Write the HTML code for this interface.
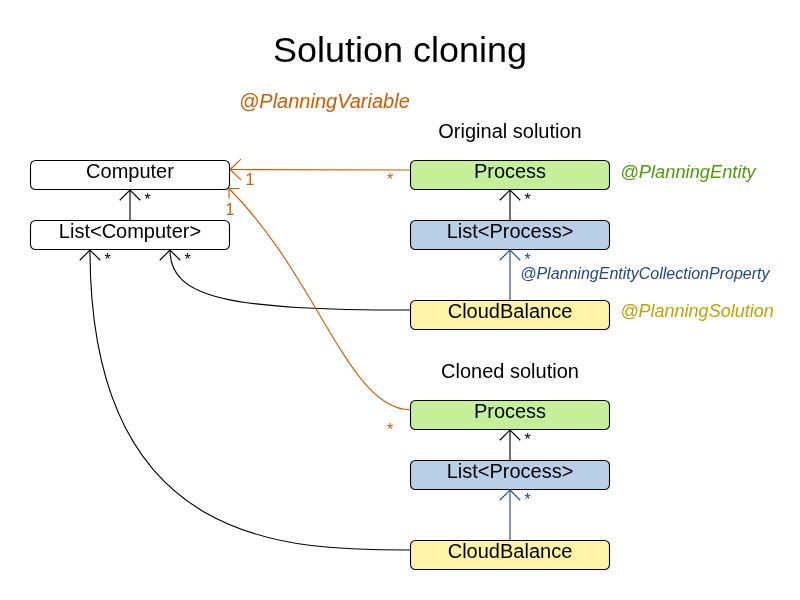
<!DOCTYPE html>
<html>
<head>
<meta charset="utf-8">
<title>Solution cloning</title>
<style>
html,body{margin:0;padding:0;background:#fff;}
body{width:800px;height:600px;overflow:hidden;font-family:"Liberation Sans",sans-serif;}
svg{display:block;will-change:transform;}
text{font-family:"Liberation Sans",sans-serif;}
.b{font-size:20px;text-anchor:middle;fill:#000;}
.h{font-size:20px;text-anchor:middle;fill:#000;}
.i{font-style:italic;}
.s{font-size:16px;}
.box{stroke:#000;stroke-width:1.1;}
.k{stroke:#000;stroke-width:1.12;fill:none;}
.o{stroke:#ce5c00;stroke-width:1.12;fill:none;}
.u{stroke:#204a87;stroke-width:1.12;fill:none;}
.a{stroke-width:1.15;}
</style>
</head>
<body>
<svg width="800" height="600" viewBox="0 0 800 600">

<!-- connectors -->
<path class="k" d="M130 220V190M510 220V190M510 460V430"/>
<path class="u" d="M510 300V250M510 540V490"/>
<path class="k" d="M410 310C229.6 310 170 298.5 170 250"/>
<path class="k" d="M410 550C290 550 90 550 90 250"/>
<path class="o" d="M410 170L230 169.5"/>
<path class="o" d="M410 409.7C349.05 409.7 318.23 277.73 229 188.5"/>
<!-- arrowheads -->
<path class="k a" d="M119.75 200.25L130 190L140.25 200.25M499.75 200.25L510 190L520.25 200.25M499.75 440.25L510 430L520.25 440.25M159.75 260.25L170 250L180.25 260.25M79.75 260.25L90 250L100.25 260.25"/>
<path class="u a" d="M499.75 260.25L510 250L520.25 260.25M499.75 500.25L510 490L520.25 500.25"/>
<path class="o a" d="M241 159.1L230 169.5L241 179.9M239.5 188.5H229V198.5"/>

<!-- boxes -->
<rect class="box" x="30.5" y="160.5" width="199" height="29" rx="5" fill="#ffffff"/>
<rect class="box" x="30.5" y="220.5" width="199" height="29" rx="5" fill="#ffffff"/>
<rect class="box" x="410.5" y="160.5" width="199" height="29" rx="5" fill="#c4f099"/>
<rect class="box" x="410.5" y="220.5" width="199" height="29" rx="5" fill="#b9cfe7"/>
<rect class="box" x="410.5" y="300.5" width="199" height="29" rx="5" fill="#fdf4a7"/>
<rect class="box" x="410.5" y="400.5" width="199" height="29" rx="5" fill="#c4f099"/>
<rect class="box" x="410.5" y="460.5" width="199" height="29" rx="5" fill="#b9cfe7"/>
<rect class="box" x="410.5" y="540.5" width="199" height="29" rx="5" fill="#fdf4a7"/>

<!-- text -->
<text transform="translate(400 62.2) scale(1 0.955)" x="0" y="0" font-size="36" text-anchor="middle">Solution cloning</text>
<text class="i" x="239" y="108" font-size="20" fill="#ce5c00">@PlanningVariable</text>
<text class="h" x="510" y="137.5">Original solution</text>
<text class="h" x="510" y="377.5">Cloned solution</text>
<text class="b" x="130" y="178">Computer</text>
<text class="b" x="130" y="238">List&lt;Computer&gt;</text>
<text class="b" x="510" y="178">Process</text>
<text class="b" x="510" y="238">List&lt;Process&gt;</text>
<text class="b" x="510" y="318">CloudBalance</text>
<text class="b" x="510" y="418">Process</text>
<text class="b" x="510" y="478">List&lt;Process&gt;</text>
<text class="b" x="510" y="558">CloudBalance</text>
<text class="i" x="620.3" y="178.4" font-size="18.3" fill="#4e9a06">@PlanningEntity</text>
<text class="i" x="620.3" y="316.6" font-size="18" fill="#c4a000">@PlanningSolution</text>
<text class="i" x="520.2" y="279" font-size="16" fill="#204a87">@PlanningEntityCollectionProperty</text>
<text class="s" x="144.6" y="205">*</text>
<text class="s" x="104.6" y="265">*</text>
<text class="s" x="184.6" y="265">*</text>
<text class="s" x="524.4" y="205">*</text>
<text class="s" x="524.4" y="445">*</text>
<text class="s" x="524.4" y="265" fill="#204a87">*</text>
<text class="s" x="524.4" y="505" fill="#204a87">*</text>
<text class="s" x="245.5" y="184.5" fill="#ce5c00">1</text>
<text class="s" x="225.5" y="214.5" fill="#ce5c00">1</text>
<text class="s" x="387" y="185" fill="#ce5c00">*</text>
<text class="s" x="387" y="435" fill="#ce5c00">*</text>
</svg>
</body>
</html>
